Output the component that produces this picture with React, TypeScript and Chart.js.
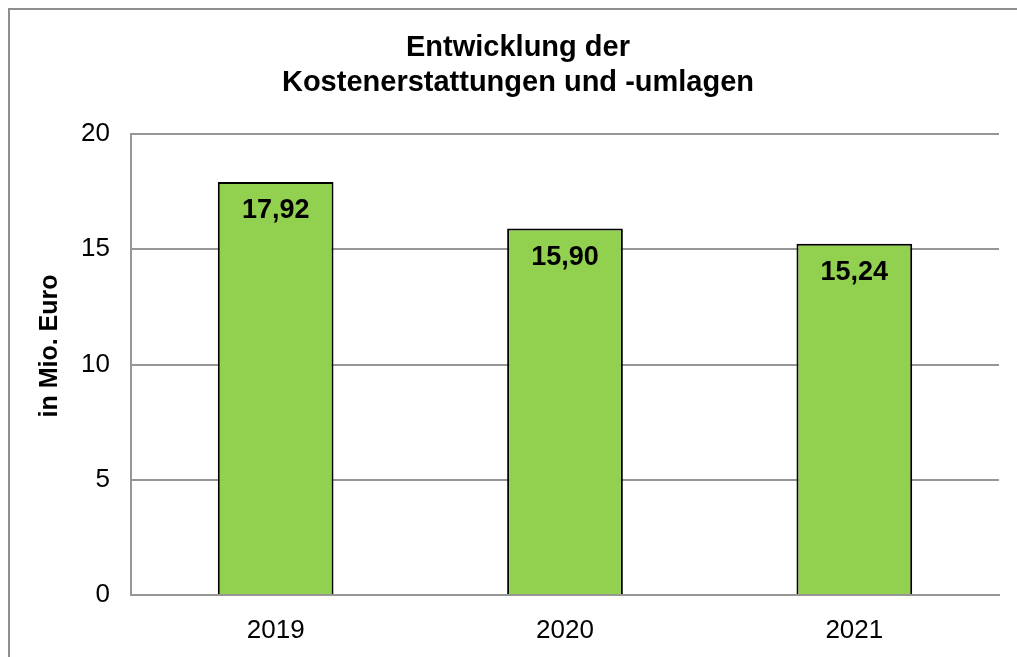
import React, { useEffect, useRef } from "react";
import { Chart, registerables } from "chart.js";

Chart.register(...registerables);

const titleLines = ["Entwicklung der", "Kostenerstattungen und -umlagen"];
const categories = ["2019", "2020", "2021"];
const values = [17.92, 15.9, 15.24];
const valueLabels = ["17,92", "15,90", "15,24"];
const yTicks = [0, 5, 10, 15, 20];
const yAxisTitle = "in Mio. Euro";

const FONT = "'Liberation Sans', Arial, sans-serif";

const decorPlugin = {
  id: "decor",
  beforeDraw(chart: any) {
    const ctx = chart.ctx;
    ctx.save();
    ctx.fillStyle = "#ffffff";
    ctx.fillRect(0, 0, chart.width, chart.height);
    ctx.strokeStyle = "#8e8e8e";
    ctx.lineWidth = 2;
    ctx.strokeRect(9, 9, 1040, 700);
    ctx.restore();
  },
  afterDraw(chart: any) {
    const ctx = chart.ctx;
    ctx.save();
    // title
    ctx.fillStyle = "#000";
    ctx.font = `bold 29px ${FONT}`;
    ctx.textAlign = "center";
    ctx.textBaseline = "middle";
    ctx.fillText(titleLines[0], 518, 48);
    ctx.fillText(titleLines[1], 518, 83);
    // y axis title
    ctx.save();
    ctx.translate(50, 346);
    ctx.rotate(-Math.PI / 2);
    ctx.font = `bold 25px ${FONT}`;
    ctx.fillText(yAxisTitle, 0, 0);
    ctx.restore();
    // data labels
    const meta = chart.getDatasetMeta(0);
    ctx.font = `bold 27px ${FONT}`;
    meta.data.forEach((bar: any, i: number) => {
      ctx.fillText(valueLabels[i], bar.x, bar.y + 29);
    });
    ctx.restore();
  },
};

export default function App() {
  const ref = useRef<HTMLCanvasElement | null>(null);
  useEffect(() => {
    if (!ref.current) return;
    const chart = new Chart(ref.current, {
      type: "bar",
      data: {
        labels: categories,
        datasets: [
          {
            data: values,
            backgroundColor: "#92D050",
            borderColor: "#000000",
            borderWidth: 2,
            barPercentage: 0.4,
            categoryPercentage: 1,
          },
        ],
      },
      options: {
        responsive: false,
        animation: false,
        layout: { padding: { left: 0, right: 18, top: 134, bottom: 0 } },
        plugins: {
          legend: { display: false },
          title: { display: false },
          tooltip: { enabled: false },
        },
        scales: {
          x: {
            grid: { display: false, drawTicks: false },
            border: { display: true, color: "#969696", width: 2 },
            ticks: {
              color: "#000",
              font: { family: FONT, size: 26 },
              padding: 20,
              maxRotation: 0,
            },
            afterFit: (s: any) => {
              s.height = 62;
            },
          },
          y: {
            min: 0,
            max: 20,
            afterBuildTicks: (s: any) => {
              s.ticks = yTicks.map((v) => ({ value: v }));
            },
            grid: { color: "#969696", lineWidth: 2, drawTicks: false },
            border: { display: true, color: "#969696", width: 2 },
            ticks: {
              color: "#000",
              font: { family: FONT, size: 26 },
              padding: 21,
            },
            afterFit: (s: any) => {
              s.width = 131;
            },
          },
        },
      },
      plugins: [decorPlugin],
    });
    return () => chart.destroy();
  }, []);
  return (
    <div style={{ position: "absolute", left: 0, top: 0, width: 1017, height: 657 }}>
      <canvas ref={ref} width={1017} height={657} />
    </div>
  );
}
